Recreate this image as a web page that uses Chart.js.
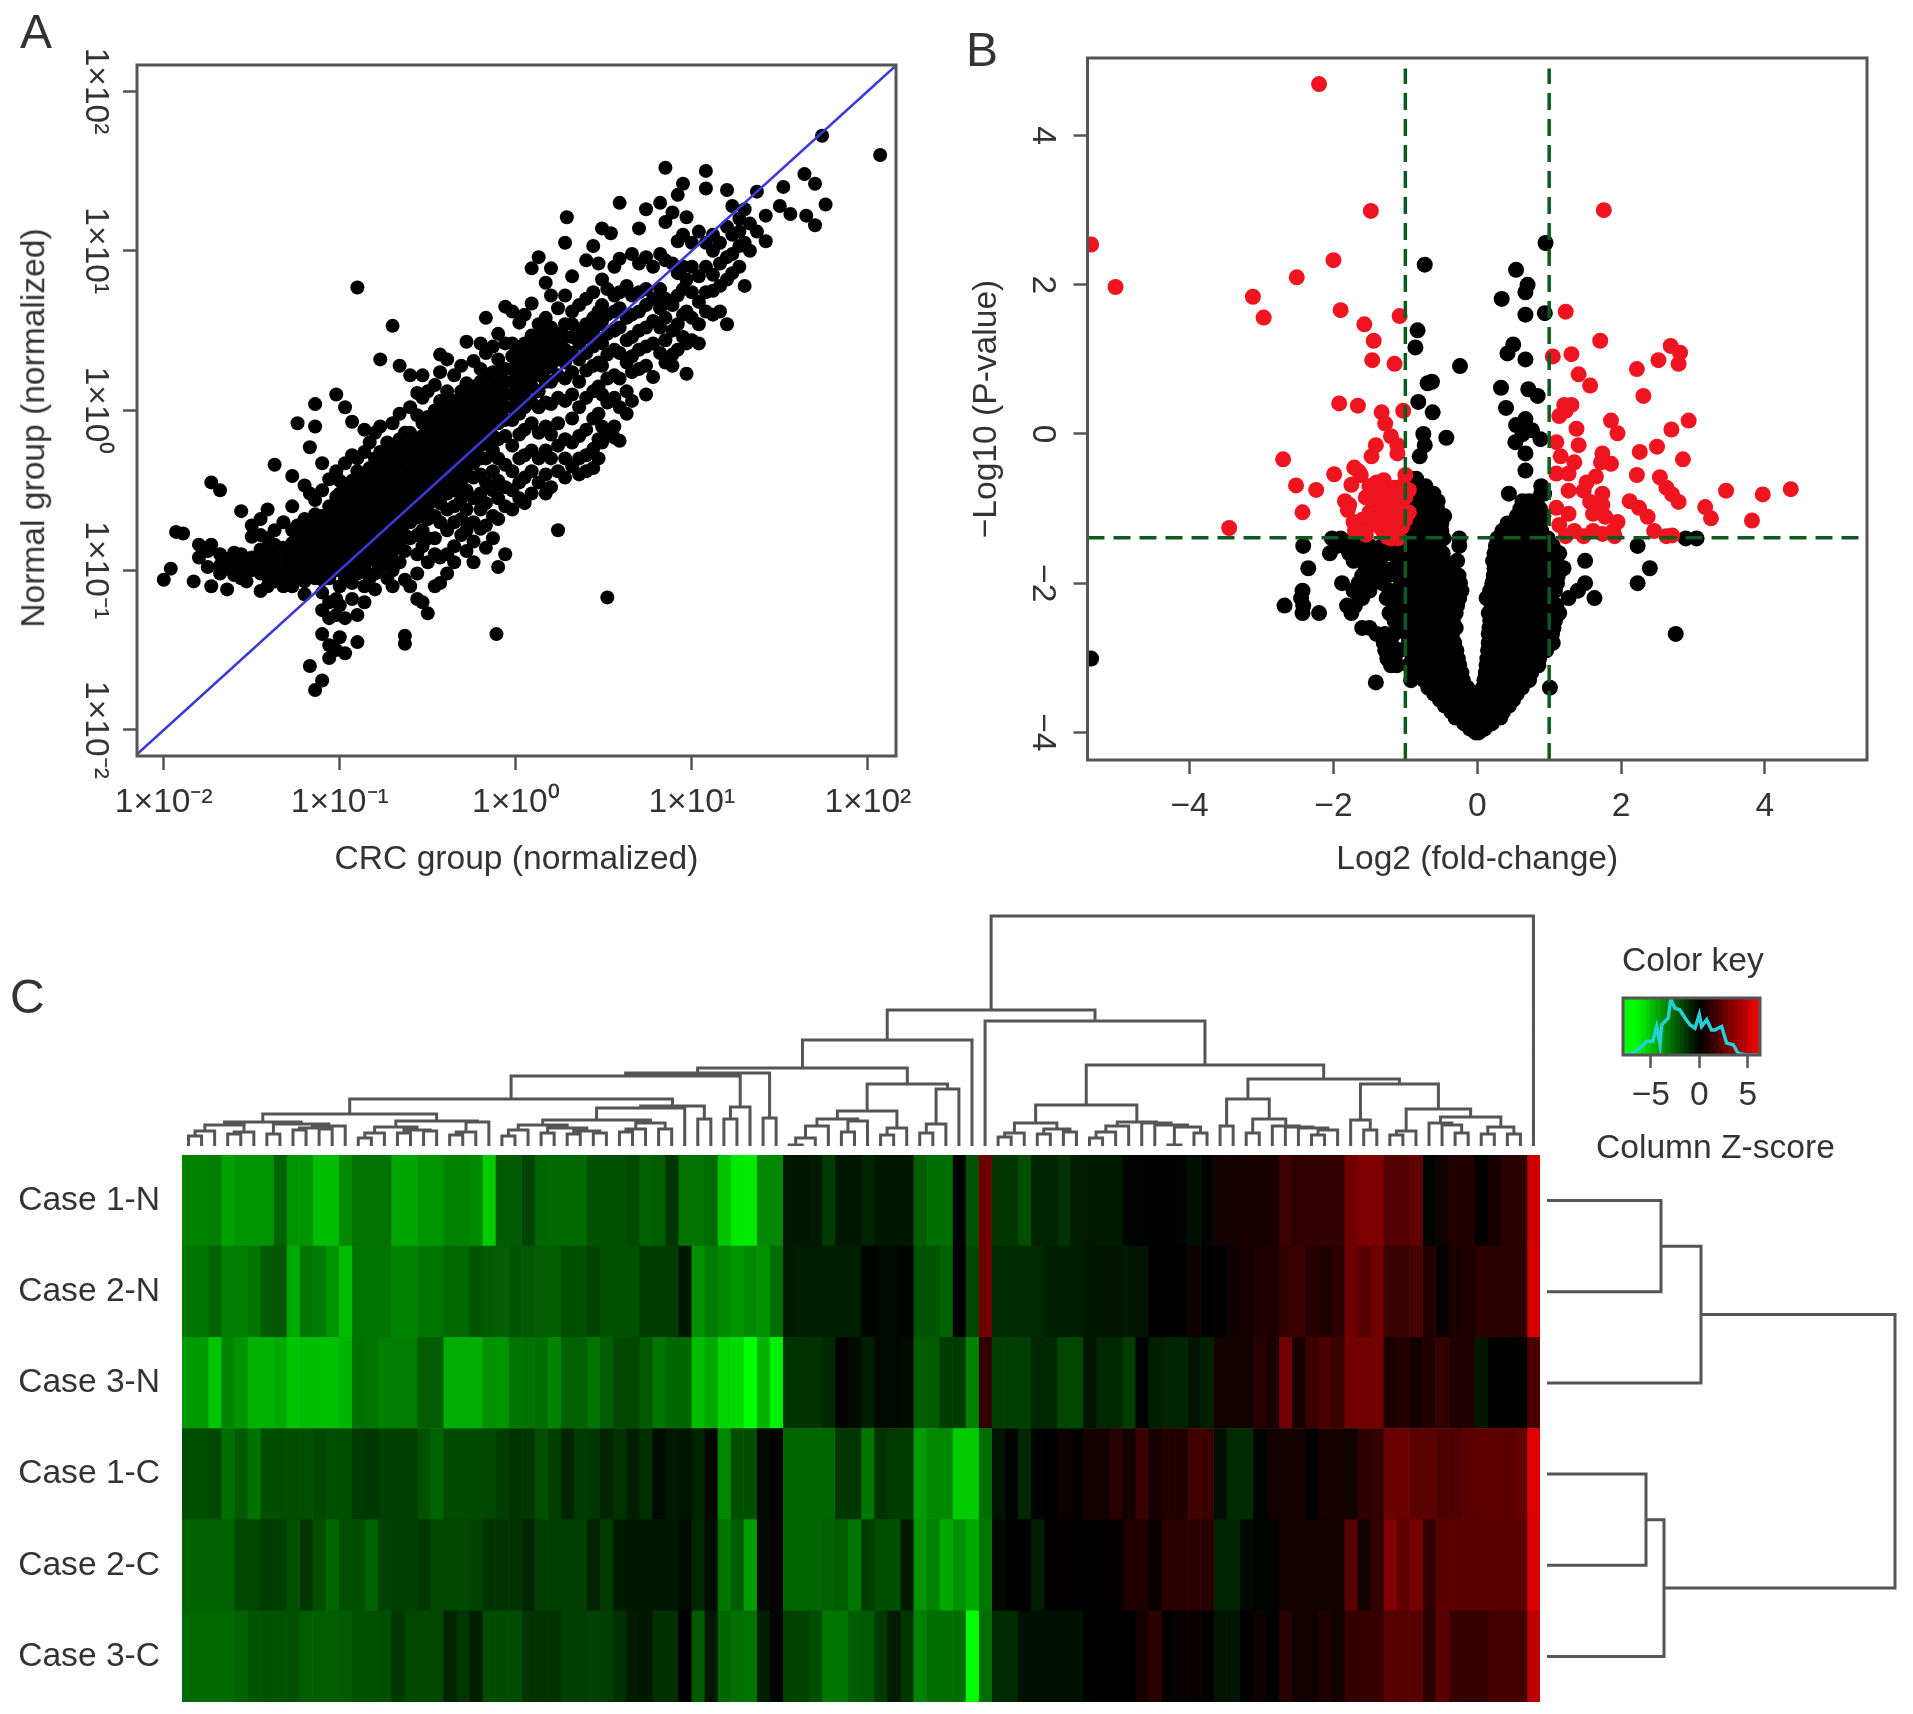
<!DOCTYPE html>
<html><head><meta charset="utf-8">
<style>
html,body{margin:0;background:#fff;width:1913px;height:1714px;overflow:hidden}
canvas{position:absolute;filter:blur(.7px)}
.t{position:absolute;font-family:"Liberation Sans",sans-serif;color:#333;white-space:nowrap;line-height:1;filter:blur(.4px)}
</style>
<script src="https://cdn.jsdelivr.net/npm/chart.js@4"></script>
</head><body>
<div class="t" style="left:20px;top:8px;font-size:48px">A</div>
<div class="t" style="left:966px;top:26px;font-size:48px">B</div>
<div class="t" style="left:10px;top:973px;font-size:48px">C</div>
<div class="t" style="left:1622px;top:943px;font-size:33.6px">Color key</div>
<div class="t" style="left:1596px;top:1130px;font-size:33.6px">Column Z-score</div>
<div class="t" style="left:33px;top:428px;font-size:33.6px;transform:translate(-50%,-50%) rotate(-90deg)">Normal group (normalized)</div>
<canvas id="a" width="930" height="900" style="left:0;top:0"></canvas>
<canvas id="b" width="963" height="900" style="left:950px;top:0"></canvas>
<canvas id="top" width="1358" height="240" style="left:182px;top:906px"></canvas>
<canvas id="heat" width="1540" height="547" style="left:0;top:1155px"></canvas>
<canvas id="side" width="366" height="547" style="left:1547px;top:1155px"></canvas>
<canvas id="key" width="300" height="170" style="left:1560px;top:948px"></canvas>
<script>
const FONT='"Liberation Sans",sans-serif', INK='#333', LINE='#555';

/* Panel A: log10 CRC group, followed by log10 Normal group values read at that CRC position */
const logNormalByLogCRC=[
[-2,-1.06],[-1.96,-.99],[-1.93,-.76],[-1.89,-.77],[-1.83,-1.07],[-1.8,-.84,-.92],[-1.75,-.88,-.98],[-1.73,-.45,-.84,-1.1],
[-1.68,-.5,-.9,-.97,-1.02],[-1.64,-.93,-.99,-1.12],[-1.6,-.89,-.96,-1.03],[-1.56,-.63,-.9,-1,-1.05],[-1.53,-.95,-1.07],
[-1.5,-.72,-.79,-.92,-1],[-1.45,-.68,-.78,-.87,-.94,-1.02,-1.13],[-1.41,-.62,-.8,-.88,-.96,-1.04,-1.1],
[-1.37,-.34,-.75,-.84,-.92,-1,-1.07],[-1.32,-.7,-.86,-.94,-1.02,-1.1],[-1.27,-.41,-.6,-.75,-.83,-.9,-.98,-1.05,-1.1],
[-1.24,-.08,-.72,-.8,-.88,-.96,-1.03],[-1.2,-.47,-.68,-.76,-.84,-.92,-1,-1.07,-1.15],[-1.17,-.23,-.52,-.72,-.8,-.88,-.96,-1.04,-1.6],
[-1.14,-.1,.04,-.56,-.65,-.73,-.81,-.89,-.97,-1.05,-1.75],[-1.1,-.33,-.5,-.66,-.74,-.82,-.9,-.98,-1.06,-1.14,-1.25,-1.4,-1.69],
[-1.06,-.43,-.6,-.68,-.76,-.84,-.92,-1,-1.05,-1.2,-1.3,-1.47,-1.55],[-1.02,.1,-.38,-.54,-.62,-.7,-.78,-.86,-.94,-1,-1.18,-1.28,-1.5],
[-1,-.44,-.52,-.6,-.68,-.76,-.84,-.92,-1,-1.1,-1.22,-1.42],[-.97,.02,-.33,-.48,-.56,-.64,-.72,-.8,-.88,-.96,-1.05,-1.3,-1.52],
[-.93,-.07,-.28,-.44,-.52,-.6,-.68,-.76,-.84,-.92,-1,-1.08,-1.18],[-.9,.77,-.3,-.38,-.46,-.54,-.62,-.7,-.78,-.86,-.94,-1.02,-1.28,-1.45],
[-.86,-.12,-.26,-.42,-.5,-.58,-.66,-.74,-.82,-.9,-.98,-1.1,-1.2],[-.83,-.2,-.36,-.44,-.52,-.6,-.68,-.76,-.84,-.92,-1.05],
[-.8,-.14,-.3,-.38,-.46,-.54,-.62,-.7,-.78,-.86,-.94,-1.02,-1.12],[-.77,.32,-.1,-.26,-.34,-.42,-.5,-.58,-.66,-.74,-.82,-.9,-.98],
[-.73,-.2,-.28,-.36,-.44,-.52,-.6,-.68,-.76,-.84,-.93,-1.05],[-.7,.53,-.08,-.24,-.32,-.4,-.48,-.56,-.64,-.72,-.8,-.88,-1,-1.1],
[-.66,.28,-.02,-.18,-.26,-.34,-.42,-.5,-.58,-.66,-.74,-.82,-.95],[-.63,-.14,-.22,-.3,-.38,-.46,-.54,-.62,-.7,-.78,-.88,-1.06,-1.41,-1.46],
[-.6,.22,.02,-.14,-.22,-.3,-.38,-.46,-.54,-.62,-.7,-.8,-1.1],[-.56,.11,-.03,-.19,-.27,-.35,-.43,-.51,-.59,-.67,-.78,-.9,-1.02,-1.18],
[-.53,.22,.08,-.08,-.16,-.24,-.32,-.4,-.48,-.56,-.64,-.75,-.85,-1.2],[-.5,.12,-.04,-.12,-.2,-.28,-.36,-.44,-.52,-.6,-.68,-.8,-.95,-1.27],
[-.46,.16,0,-.08,-.16,-.24,-.32,-.4,-.48,-.56,-.66,-.8,-.9,-1.1],[-.43,.24,.35,.06,-.02,-.1,-.18,-.26,-.34,-.42,-.5,-.58,-.7,-.92,-1.08],
[-.39,.32,.12,.04,-.04,-.12,-.2,-.28,-.36,-.44,-.52,-.62,-.75,-.9,-1.02],[-.35,.22,.06,-.02,-.1,-.18,-.26,-.34,-.42,-.5,-.6,-.7,-.85,-.95],
[-.31,.28,.12,.04,-.04,-.12,-.2,-.28,-.36,-.44,-.55,-.68,-.78],[-.28,.43,.17,.09,.01,-.07,-.15,-.23,-.31,-.39,-.5,-.62,-.75,-.88],
[-.24,.31,.15,.07,-.01,-.09,-.17,-.25,-.33,-.42,-.55,-.7,-.82,-.95],[-.2,.42,.26,.18,.1,.02,-.06,-.14,-.22,-.3,-.4,-.52,-.62,-.74],
[-.17,.58,.36,.2,.12,.04,-.04,-.12,-.2,-.3,-.45,-.58,-.72,-.86],[-.13,.4,.24,.16,.08,0,-.08,-.16,-.25,-.38,-.5,-.66,-.8],
[-.11,-1.4],[-.1,.48,.32,.24,.16,.08,0,-.08,-.18,-.3,-.44,-.55,-.68,-.98],[-.06,.65,.42,.26,.18,.1,.02,-.06,-.16,-.34,-.48,-.6,-.9],
[-.02,.62,.42,.34,.26,.18,.1,.02,-.06,-.22,-.38,-.5,-.62],[.02,.55,.39,.31,.23,.15,.07,-.02,-.15,-.3,-.45,-.55],
[.05,.6,.42,.34,.26,.18,.1,.02,-.12,-.28,-.42,-.58],[.09,.89,.67,.47,.39,.31,.23,.15,.05,-.08,-.25,-.38,-.52],
[.13,.96,.54,.46,.38,.3,.22,.12,.02,-.14,-.3,-.45],[.17,.8,.58,.5,.42,.34,.26,.18,.05,-.1,-.25,-.4,-.52],
[.2,.89,.72,.52,.44,.36,.28,.18,.04,-.15,-.3,-.48],[.24,.64,.48,.4,.32,.22,.08,-.08,-.22,-.38,-.75],
[.28,1.05,.72,.54,.46,.38,.3,.2,.06,-.18,-.3,-.42],[.29,1.21],[.32,.84,.62,.54,.46,.36,.24,.1,-.05,-.2,-.35],
[.36,.66,.5,.42,.32,.18,.02,-.16,-.3,-.4],[.4,.94,.7,.54,.46,.36,.25,.08,-.12,-.28,-.38],[.44,1.03,.74,.58,.5,.4,.28,.12,-.05,-.24,-.36],
[.47,.92,.62,.54,.44,.3,.15,-.02,-.18,-.3],[.49,1.14,.82,.66,.56,.42,.28,.1,-.1,-.2],[.52,-1.17,.76,.6,.48,.35,.2,.05,-.14],
[.54,1.11],[.56,.9,.72,.62,.5,.38,.22,.08,-.1,-.17],[.59,1.3,.95,.74,.64,.52,.36,.2,.02,-.19],[.63,.78,.58,.44,.3,.12,-.02],
[.66,.98,.72,.6,.46,.34,.24,.06],[.7,1.14,.92,.74,.62,.5,.38,.26],[.74,1.26,.96,.76,.66,.52,.4,.28,.1],[.78,.9,.7,.56,.42,.21],
[.82,1.3,.98,.76,.64,.52,.36],[.85,1.52,1.18,.94,.7,.58,.44,.3],[.89,1.24,.92,.66,.5,.35,.28],[.92,1.35,1.06,.86,.72,.54,.38],
[.95,1.42,1.1,.9,.76,.6,.46],[.97,1.21,.82,.62,.42,.23],[1,1.05,.9,.74,.58,.44],[1.04,1.12,.84,.68,.54,.42],[1.08,1.5,1.39,1.05,.9,.74,.62],
[1.12,1.1,1,.85,.75,.6],[1.16,1.05,.92,.78,.62],[1.2,1.38,1.15,.96,.82,.54],[1.23,1.28,1.1,.98,.86],[1.27,1.2,1.12,1.03,.9],[1.3,1.26,1.05,.78],
[1.33,1.17,1],[1.37,1.37,1.12],[1.42,1.22,1.06],[1.5,1.28],[1.52,1.4],[1.56,1.23],[1.64,1.48],[1.65,1.22],[1.7,1.42,1.16],[1.74,1.72],[1.76,1.29],[2.07,1.6]
];
const aTickValues=[.01,.1,1,10,100];
const aTickTexts=['1×10⁻²','1×10⁻¹','1×10⁰','1×10¹','1×10²'];
const aXLimits=[-2.152,2.16], aYLimits=[-2.163,2.163];

/* Panel B: [−log10 row value, then log2 fold-changes of the black points on that row] */
const blackRowsB=[
[-4,-.02,.02],[-3.95,-.1,-.04,.04,.1],[-3.88,-.18,-.1,-.02,.06,.14,.2],[-3.8,-.3,-.21,-.12,-.03,.06,.15,.24,.32],
[-3.72,-.36,-.27,-.18,-.09,0,.09,.18,.27,.36],[-3.64,-.45,-.36,-.27,-.18,-.09,0,.1,.19,.28,.37,.44],
[-3.56,-.52,-.43,-.34,-.25,-.16,-.07,.06,.15,.24,.33,.42,.5],[-3.48,-.6,-.51,-.42,-.33,-.24,-.15,-.06,.1,.19,.28,.37,.46,.55],
[-3.4,-.68,-.59,-.5,-.41,-.32,-.23,-.14,.08,.17,.26,.35,.44,.53,.62,1.01],[-3.33,-1.41],
[-3.3,-.92,-.74,-.65,-.56,-.47,-.38,-.29,-.2,.1,.19,.28,.37,.46,.55,.64,.72],
[-3.2,-.85,-.76,-.67,-.58,-.49,-.4,-.31,-.22,.12,.21,.3,.39,.48,.57,.66,.75],
[-3.1,-1.2,-1.12,-.95,-.88,-.79,-.7,-.61,-.52,-.43,-.34,-.25,.13,.22,.31,.4,.49,.58,.67,.76,.85],
[-3.01,-5.37,-1.25,-1.15,-.9,-.81,-.72,-.63,-.54,-.45,-.36,-.27,.14,.23,.32,.41,.5,.59,.68,.77,.86],
[-2.9,-1.28,-1.18,-1.08,-.92,-.83,-.74,-.65,-.56,-.47,-.38,-.29,.15,.24,.33,.42,.51,.6,.69,.78,.87,.96],
[-2.8,-1.3,-1.2,-.95,-.86,-.77,-.68,-.59,-.5,-.41,-.32,.16,.25,.34,.43,.52,.61,.7,.79,.88,.97,1.05],
[-2.68,-1.4,-1.28,-1.16,-.98,-.89,-.8,-.71,-.62,-.53,-.44,-.35,.16,.25,.34,.43,.52,.61,.7,.79,.88,.97,1.04,2.76],
[-2.6,-1.6,-1.5,-1.02,-.93,-.84,-.75,-.66,-.57,-.48,-.39,-.3,.17,.26,.35,.44,.53,.62,.71,.8,.89,.98,1.06],
[-2.5,-1.15,-1.06,-.97,-.88,-.79,-.7,-.61,-.52,-.43,-.34,.18,.27,.36,.45,.54,.63,.72,.81,.9,.99,1.08],
[-2.4,-2.43,-2.2,-1.75,-1.22,-1.12,-1.02,-.92,-.83,-.74,-.65,-.56,-.47,-.38,-.3,.16,.25,.34,.43,.52,.61,.7,.79,.88,.97,1.06,1.14],
[-2.3,-2.68,-2.42,-1.81,-1.7,-1.14,-1.04,-.94,-.85,-.76,-.67,-.58,-.49,-.4,-.28,.2,.29,.38,.47,.56,.65,.74,.83,.92,1.01,1.1],
[-2.2,-2.45,-1.6,-1.26,-1.1,-1,-.91,-.82,-.73,-.64,-.55,-.46,-.37,-.25,.13,.22,.31,.4,.49,.58,.67,.76,.85,.94,1.03,1.27,1.63],
[-2.1,-2.43,-1.72,-1.5,-1.22,-1.08,-.98,-.89,-.8,-.71,-.62,-.53,-.44,-.35,-.22,.18,.27,.36,.45,.54,.63,.72,.81,.9,.99,1.08,1.4],
[-2,-1.88,-1.65,-1.5,-1.32,-1.06,-.96,-.87,-.78,-.69,-.6,-.51,-.42,-.33,-.24,.21,.3,.39,.48,.57,.66,.75,.84,.93,1.02,1.11,1.5,2.23],
[-1.9,-1.6,-1.4,-1.25,-1.1,-1,-.91,-.82,-.73,-.64,-.55,-.46,-.37,-.26,.23,.32,.41,.5,.59,.68,.77,.86,.95,1.04,1.12],
[-1.8,-2.35,-1.55,-1.42,-1.3,-1.16,-1,-.9,-.81,-.72,-.63,-.54,-.45,-.36,.24,.33,.42,.51,.6,.69,.78,.87,.96,1.05,1.2,2.4],
[-1.7,-1.72,-1.6,-1.5,-1.38,-1.1,-1,-.91,-.82,-.73,-.64,-.55,-.46,-.28,.22,.31,.4,.49,.58,.67,.76,.85,.94,1.03,1.1,1.5],
[-1.6,-2.05,-1.78,-1.68,-1.55,-1.4,-1.25,-1.02,-.93,-.84,-.75,-.66,-.57,-.48,.24,.33,.42,.51,.6,.69,.78,.87,.96,1.05,1.14],
[-1.5,-2.42,-1.95,-1.85,-1.68,-1.5,-1.32,-1.15,-1,-.91,-.82,-.73,-.64,-.55,-.25,.26,.35,.44,.53,.62,.71,.8,.89,.98,1.05,2.23],
[-1.4,-2.02,-1.9,-1.72,-1.02,-.92,-.83,-.74,-.65,-.56,-.47,-.25,.28,.37,.46,.55,.64,.73,.82,.91,.98,2.9,3.05],
[-1.3,-.95,-.86,-.77,-.68,-.59,-.5,.35,.44,.53,.62,.71,.8,.89],
[-1.2,-.95,-.86,-.77,-.68,-.59,-.5,.42,.5,.6,.69,.78,.87],
[-1.1,-.93,-.84,-.75,-.66,-.57,-.46,.55,.64,.73,.82,.92],
[-1,-.92,-.83,-.74,-.65,-.56,.6,.69,.78,.87],
[-.9,-.91,-.82,-.73,-.64,-.55,.63,.72,.8],
[-.8,-.88,-.79,-.7,-.61,.44,.89,.93],[-.7,-.9,-.81,-.72,.89],[-.6,-.93,-.85],
[-.49,.67],[-.3,-.8],[-.26,.67],[-.15,-.73],[-.11,.53],[-.07,.88],[-.05,-.43],[0,-.75,.63],[.05,.76],[.12,.54],[.2,.67],[.29,-.62],[.35,.4],
[.43,-.82],[.51,.84],[.6,.71],[.62,.33],[.68,-.69],[.7,-.63],[.91,-.24],[1,.67],[1.08,.42],[1.16,-.86],[1.2,.5],[1.39,-.83],[1.6,.67],[1.62,.94],
[1.81,.34],[1.9,.67],[2,.7],[2.2,.54],[2.27,-.73],[2.56,.95]
];
const redFoldB=[-2.2,-1.48,1.76,-5.37,-5.03,-2,-2.51,-3.12,-2.97,-1.9,-1.57,-1.08,-1.44,-1.46,-1.15,-1.92,-1.66,-1.33,-1.03,-1.28,-1.2,-1.11,-1.41,-1.47,-1.11,-2.7,-1.99,-2.52,-2.24,-2.43,-3.45,-1.71,
1.23,1.71,1.31,2.69,2.82,2.8,2.52,2.22,2.31,1.41,1.57,1.05,1.31,1.21,1.14,1.23,1.86,1.95,1.38,2.94,2.7,2.5,2.26,2.86,2.22,2.54,2.63,2.71,2.8,3.46,3.97,4.36,3.17,3.25,3.82,2.12,2.25,2.37,1.95,2.46,2.71,1.89,1.1,1.16,1.41,1.35,1.74,1.72,1.86,1.1,1.27,1.65,1.52,1.27,1.48,1.74,1.57,1.74,1.1,1.27,1.61,1.78,1.14,1.35,1.61,1.74,1.23,1.48,1.91,2.63,
-1.84,-1.8,-1.75,-1.72,-1.7,-1.62,-1.55,-1.5,-1.5,-1.45,-1.45,-1.4,-1.4,-1.4,-1.35,-1.35,-1.35,-1.3,-1.3,-1.3,-1.3,-1.25,-1.25,-1.25,-1.25,-1.2,-1.2,-1.2,-1.2,-1.2,-1.15,-1.15,-1.15,-1.15,-1.15,-1.1,-1.1,-1.1,-1.1,-1.1,-1.05,-1.05,-1.05,-1.05,-1,-1,-1,-.95,-.95,-1.78,-1.6,-1.55,-1.65];
const redPvalB=[4.69,2.99,3,2.54,1.97,2.33,2.1,1.84,1.56,1.66,1.47,1.58,1.25,.99,.94,.41,.38,.29,.31,.14,-.03,-.15,-.15,-.3,-.26,-.34,-.54,-.69,-.75,-1.05,-1.26,-.45,
1.64,1.25,1.07,1.18,1.09,.94,.99,.87,.51,.8,.65,1.04,.39,.39,.24,.31,.18,.01,.07,.18,.06,-.17,-.24,-.34,-.55,-.58,-.72,-.81,-.91,-.76,-.81,-.74,-.98,-1.13,-1.16,-.9,-.99,-1.11,-1.18,-1.3,-1.36,-1.3,-.11,-.3,-.15,-.38,-.26,-.38,-.4,-.53,-.53,-.57,-.65,-.76,-.76,-.8,-.91,-.95,-.99,-1.07,-1.07,-1.11,-1.22,-1.3,-1.3,-1.34,-1.37,-1.37,-1.37,-1.37,
-.9,-1.02,-.68,-1.18,-1.3,-.55,-.85,-.7,-1.05,-.75,-1.2,-.65,-.9,-1.1,-.8,-1,-1.25,-.62,-.85,-1.08,-1.32,-.75,-.95,-1.15,-1.38,-.82,-1.02,-1.2,-1.3,-1.4,-.72,-.9,-1.1,-1.25,-1.38,-.8,-1,-1.15,-1.3,-1.4,-.7,-.9,-1.05,-1.25,-.55,-.85,-1.15,-.75,-1.05,-.95,-1.15,-1.35,-.5];
const bXTicks=[-4,-2,0,2,4], bYTicks=[-4,-2,0,2,4];
const foldCutoffs=[-1,1], pCutoff=-1.39;
const bXRange=[-5.42,5.42], bYRange=[-4.37,5.04];

/* Panel C: column z-scores per sample */
const caseLabels=['Case 1-N','Case 2-N','Case 3-N','Case 1-C','Case 2-C','Case 3-C'];
const case1N=[-3.3,-3.3,-3.2,-4.1,-3.8,-3.8,-3.8,-2.5,-3.8,-3.8,-4.8,-4.8,-3.5,-2.9,-2.9,-2.9,-4.2,-4.2,-3.8,-3.8,-3.3,-3.3,-3.5,-5.2,-2.3,-2.3,-1.7,-2.6,-2.7,-2.7,-2.7,-2.1,-2.1,-2.1,-1.9,-2.5,-2.4,-1.4,-2.9,-2.9,-2.7,-5,-5.9,-6,-3.5,-3.5,-.6,-.6,-.7,-1.5,-.6,-.6,-.9,-.6,-.6,-.6,-2.4,-2.8,-2.8,-.1,-2.1,2.8,-1.4,-1.4,-2,-.9,-.9,-1.3,-.8,-.7,-.7,-.7,-.1,-.1,0,0,-.1,-.4,-.1,.5,.5,.6,.7,.7,1.6,1.2,1.3,1.3,1.3,2.8,3.2,3.2,2.1,2.1,2.5,-.1,.4,.9,.9,.1,.6,1.1,1.1,5.3];
const case2N=[-3,-3,-2.5,-3.2,-3.2,-3,-2.3,-2.2,-4.3,-3,-3.1,-3.8,-4.8,-3,-3,-3,-3.4,-3.4,-3,-3,-2.7,-2.7,-2.2,-2.3,-2.4,-2.2,-2.3,-2.4,-2.4,-2,-2,-1.7,-2.1,-2.1,-2.1,-1.5,-1.5,-1.5,-.6,-3.7,-3.1,-3.5,-3.8,-3.5,-3.7,-2.8,-.7,-.8,-.8,-.8,-.8,-.8,-.1,-.2,-.2,-.1,-2.2,-2.2,-2.5,0,-1.8,2.8,-1.1,-1.1,-1.1,-1.1,-.8,-.8,-.8,-.6,-.5,-.5,-.6,-.5,0,0,.1,.3,0,0,.3,.6,.8,.8,1.3,1.5,1,.8,1.1,2.8,2.2,2.8,1.5,1.5,1.8,.9,.1,.7,.8,1.1,1.1,1.1,1.1,5.4];
const case3N=[-3.9,-3.9,-5,-3.4,-3.8,-4.5,-4.5,-4.3,-5,-4.8,-4.9,-4.9,-4.6,-2.9,-3,-3.2,-3.2,-3.2,-2.4,-2.4,-4.4,-4.4,-4.4,-3.7,-3.8,-3,-2.9,-2.8,-3.4,-2.5,-2.5,-3,-2.4,-1.8,-1.8,-2.3,-3,-2.6,-2.6,-4.8,-4.3,-5.4,-5.5,-6.5,-4.6,-6.1,-1.3,-1.3,-1.3,-1,-.1,-.3,-.8,-.2,-.2,-.3,-2.4,-2.3,-1.5,-1.5,-3.3,1.2,-1.6,-1.6,-1.6,-1,-1,-1.8,-1.8,-.5,-1,-1,-1.5,-.1,-.8,-.9,-.9,-.5,-.8,.5,.5,.5,1,.6,2.8,.6,1.5,1.9,1.5,2.9,2.9,2.9,.6,.9,.5,.9,1.3,.8,.8,-.6,0,.1,.1,1.9];
const case1C=[-2,-2,-1.8,-2.8,-2.3,-2.9,-2,-2,-2,-2,-1.8,-2,-2,-1.5,-1.4,-1.6,-1.6,-1.6,-2.1,-2.5,-1.9,-1.9,-1.9,-1.8,-1.5,-1.3,-1.4,-2,-1.6,-1,-1.5,-1.4,-.9,-1.3,-.8,-1.2,-.3,-.6,-.5,-.9,-.2,-3.5,-2,-2,-.2,.1,-2.6,-2.6,-2.6,-2.6,-1.4,-1.4,-3,-1.3,-1.5,-1.5,-4,-3.5,-3.5,-5.2,-5.2,-2.8,-.5,-.1,-1,-.1,0,.3,.1,.5,.5,1,.5,1.5,.5,.9,.9,1.7,1.5,-.4,-1.1,-1.1,-.1,.4,.5,.5,0,.6,.6,.4,1.2,1.3,2.7,2.7,2.3,2.3,2,2,2.3,2.4,2.4,2.3,2.5,5.6];
const case2C=[-2.5,-2.5,-2.5,-2.5,-1.8,-1.8,-1.5,-1.6,-2.1,-1.4,-2,-2.6,-2,-2,-2.5,-1.7,-1.6,-1.6,-1.4,-1.8,-1.8,-1.8,-1.7,-1.3,-1.3,-1.3,-.9,-1.6,-1.6,-1.6,-1.6,-.9,-1.5,-.7,-.6,-.6,-.6,-.6,-.3,-1,-.3,-3,-2.4,-4,-.2,.2,-2.6,-2.6,-2.6,-2.5,-2.4,-3,-1.5,-2,-2,-.7,-3.8,-3.3,-4.3,-3.7,-4.3,-3,-.2,0,0,-.8,.1,.1,0,0,.1,.1,.8,.8,.2,1.1,1.1,1.1,1,-.9,-.9,-.2,-.1,-.1,.5,.5,.4,.4,.5,2.3,.4,1.3,3.3,2.4,3,1.3,2.3,2.3,2.3,2.3,2.3,2.3,2.3,5.5];
const case3C=[-2.7,-2.7,-2.7,-2.7,-2.5,-2.2,-2.1,-2.1,-2,-2.4,-2.4,-2.4,-2.3,-2.1,-2.1,-2,-1.4,-1.8,-1.8,-1.8,-.9,-1.4,-.8,-1.9,-1.9,-1.9,-1.3,-1.3,-1.3,-1.6,-1.6,-1.7,-1.6,-1.2,-.7,-.6,-1.2,-1.2,0,-2.3,-.6,-2.6,-2.8,-2.9,-.8,-.1,-1.7,-1.7,-2,-3,-3,-2.4,-2.3,-1.5,-.7,-1.4,-3.3,-2.8,-2.8,-2.8,-6.5,-2.8,-1.1,-1.1,-.4,-.4,-.4,-.4,-.4,0,0,0,0,.5,1.1,0,.2,.2,.1,-.5,-.5,0,.3,0,1,.4,.4,.8,.4,1.4,1.4,1.4,2.2,2.2,2.2,1.1,2.3,1.4,1.4,1.4,1.7,1.7,1.7,4.8];
const caseRows=[case1N,case2N,case3N,case1C,case2C,case3C];

/* Dendrograms: [height, left, right]; 0 is a leaf */
const gA=[21,[15,[10,0,0],0],[14,[12,0,0],0]];
const gB=[22,[12,0,0],[20,[18,[16,0,0],[17,0,0]],0]];
const gC=[25,[19,[13,[8,0,0],0],[16,[13,0,0],[15,0,0]]],[24,[14,[11,0,0],0],0]];
const gV=[21,[16,[10,0,0],0],[18,[13,0,0],[15,[12,0,0],[13,0,0]]]];
const gW=[23,[17,[14,0,0],0],[17,0,0]];
const gL=[47,[32,[24,gA,gB],gC],[40,[38,[26,gV,gW],0],[27,0,0]]];
const gJ=[73,[70,gL,[39,[27,0,0],0]],[28,0,0]];
const gAA=[35,[27,[20,[8,[1,0,0],0],0],[25,[14,0,0],0]],[18,[11,0,0],0]];
const gZ=[62,gAA,[57,[22,[13,0,0],0],0]];
const gD=[41,[23,[13,[9,0,0],0],[17,[12,0,0],[14,0,0]]],[24,[20,[14,[8,0,0],0],0],[23,0,[21,0,[19,[1,0,0],[13,0,0]]]]]];
const gF=[47,[20,0,0],[27,[13,0,0],[20,0,[19,0,[18,0,[16,[11,0,0],0]]]]]];
const gG=[62,[26,0,[16,0,0]],[37,[15,[11,0,0],0],[29,[23,0,[21,0,[13,0,0]]],[19,[12,0,0],[12,0,0]]]]];
const columnTree=[230,[136,[106,[78,gJ,gZ],0],[125,0,[81,gD,[67,gF,gG]]]],0];
const rowTree=[348,[154,[114,0,0],0],[117,[99,0,0],0]];

/* Colour key */
const keyBins=[-7.75,-7.25,-6.75,-6.25,-5.75,-5.25,-4.75,-4.25,-3.75,-3.25,-2.75,-2.25,-1.75,-1.25,-.75,-.25,.25,.75,1.25,1.75,2.25,2.75,3.25,3.75,4.25,4.75,5.25,5.75,6.25];
const keyCurveZ=[-7.84,-6.8,-5.95,-5.43,-4.81,-4.4,-4.05,-3.88,-3.2,-2.96,-2.5,-2,-1.48,-.96,-.45,0,.24,.76,1.27,1.6,2.3,2.82,3.5,4,4.88,6.25];
const keyCurveCount=[0,3,15,24,24,50,18,53,65,98,82,79,65,53,47,71,50,62,44,44,50,21,18,3,0,0];
const keyTicks=[-5,0,5];
const keyRange=[-7.87,6.26];
const zFull=6.5;

function zColor(z){const c=Math.min(255,Math.round(Math.abs(z)/zFull*255));return z<0?`rgb(0,${c},0)`:`rgb(${c},0,0)`;}
function treePath(tree){
  const out=[];let n=0;
  (function walk(node){
    if(node===0){return {p:(n++)+.5,h:0};}
    const a=walk(node[1]),b=walk(node[2]),h=node[0];
    out.push({p:a.p,h:a.h},{p:a.p,h},{p:b.p,h},{p:b.p,h:b.h},{p:NaN,h:NaN});
    return {p:(a.p+b.p)/2,h};
  })(tree);
  return out;
}
const frame={id:'frame',afterDatasetsDraw(c){const a=c.chartArea,x=c.ctx;x.save();x.strokeStyle=LINE;x.lineWidth=3;x.strokeRect(a.left,a.top,a.right-a.left,a.bottom-a.top);x.restore();}};
const base={responsive:false,animation:false,events:[],devicePixelRatio:1,plugins:{legend:{display:false},tooltip:{enabled:false},title:{display:false}}};
const tickGrid=(len)=>({display:true,drawOnChartArea:false,drawTicks:true,tickLength:len,tickWidth:2.5,tickColor:LINE,offset:false});
const tickFont={family:FONT,size:33.6};
const pickTicks=list=>s=>{s.ticks=list.map(v=>({value:v}));};

const ptsA=logNormalByLogCRC.flatMap(r=>r.slice(1).map(y=>({x:10**r[0],y:10**y})));
new Chart(document.getElementById('a'),{type:'scatter',plugins:[frame],data:{datasets:[
 {data:[{x:10**aYLimits[0],y:10**aYLimits[0]},{x:10**aYLimits[1],y:10**aYLimits[1]}],showLine:true,borderColor:'#3a3ad6',borderWidth:2.5,pointRadius:0,order:0},
 {data:ptsA,backgroundColor:'#000',borderWidth:0,pointRadius:7,order:1}]},
 options:{...base,layout:{autoPadding:false,padding:{top:65,right:34}},scales:{
  x:{type:'logarithmic',min:10**aXLimits[0],max:10**aXLimits[1],afterBuildTicks:pickTicks(aTickValues),afterFit:s=>{s.height=144},border:{display:false},grid:tickGrid(14),
     ticks:{font:tickFont,color:INK,padding:13,maxRotation:0,autoSkip:false,callback:(v,i)=>aTickTexts[i]},
     title:{display:true,text:'CRC group (normalized)',font:tickFont,color:INK,padding:{top:0,bottom:20}}},
  y:{type:'logarithmic',min:10**aYLimits[0],max:10**aYLimits[1],afterBuildTicks:pickTicks(aTickValues),afterFit:s=>{s.width=137},border:{display:false},grid:tickGrid(14),
     ticks:{font:tickFont,color:INK,padding:-21,crossAlign:'center',minRotation:-90,autoSkip:false,callback:(v,i)=>aTickTexts[i]}}}}});

const dashed=(pts)=>({data:pts,showLine:true,borderColor:'#0b5a1f',borderWidth:3.5,borderDash:[17,9],pointRadius:0,order:0});
const ptsBlack=blackRowsB.flatMap(r=>r.slice(1).map(x=>({x,y:r[0]})));
const ptsRed=redFoldB.map((x,i)=>({x,y:redPvalB[i]}));
new Chart(document.getElementById('b'),{type:'scatter',plugins:[frame],data:{datasets:[
 dashed([{x:bXRange[0],y:pCutoff},{x:bXRange[1],y:pCutoff}]),
 dashed([{x:foldCutoffs[0],y:bYRange[0]},{x:foldCutoffs[0],y:4.9}]),
 dashed([{x:foldCutoffs[1],y:bYRange[0]},{x:foldCutoffs[1],y:4.9}]),
 {data:ptsRed,backgroundColor:'#ee1520',borderWidth:0,pointRadius:8,order:1},
 {data:ptsBlack,backgroundColor:'#000',borderWidth:0,pointRadius:8,order:2}]},
 options:{...base,layout:{autoPadding:false,padding:{top:58,right:46}},scales:{
  x:{type:'linear',min:bXRange[0],max:bXRange[1],afterBuildTicks:pickTicks(bXTicks),afterFit:s=>{s.height=140},border:{display:false},grid:tickGrid(14),
     ticks:{font:tickFont,color:INK,padding:13,maxRotation:0,callback:v=>String(v).replace('-','−')},
     title:{display:true,text:'Log2 (fold-change)',font:tickFont,color:INK,padding:{top:0,bottom:20}}},
  y:{type:'linear',min:bYRange[0],max:bYRange[1],afterBuildTicks:pickTicks(bYTicks),afterFit:s=>{s.width=137.5},border:{display:false},grid:tickGrid(14),
     ticks:{font:tickFont,color:INK,padding:12,crossAlign:'center',minRotation:-90,callback:v=>String(v).replace('-','−')},
     title:{display:true,text:'−Log10 (P-value)',font:tickFont,color:INK,padding:{top:17,bottom:0}}}}}});

const lineSet=(pts)=>({data:pts,showLine:true,spanGaps:false,borderColor:'#555',borderWidth:3,pointRadius:0,tension:0});
new Chart(document.getElementById('top'),{type:'scatter',data:{datasets:[lineSet(treePath(columnTree).map(d=>({x:d.p,y:d.h})))]},
 options:{...base,layout:{autoPadding:false},scales:{x:{type:'linear',display:false,min:0,max:104},y:{type:'linear',display:false,min:0,max:240}}}});

new Chart(document.getElementById('side'),{type:'scatter',data:{datasets:[lineSet(treePath(rowTree).map(d=>({x:d.h,y:d.p})))]},
 options:{...base,layout:{autoPadding:false},scales:{x:{type:'linear',display:false,min:0,max:366},y:{type:'linear',display:false,reverse:true,min:0,max:6}}}});

const nCols=case1N.length;
const heatSets=Array.from({length:nCols},(_,c)=>({data:caseRows.map(()=>1),backgroundColor:caseRows.map(r=>zColor(r[c])),borderWidth:0,barPercentage:1,categoryPercentage:1}));
new Chart(document.getElementById('heat'),{type:'bar',data:{labels:caseLabels,datasets:heatSets},
 options:{...base,indexAxis:'y',layout:{autoPadding:false},scales:{
  x:{stacked:true,display:false,min:0,max:nCols},
  y:{stacked:true,afterFit:s=>{s.width=182;s.paddingTop=0;s.paddingBottom=0},border:{display:false},grid:{display:false},ticks:{font:tickFont,color:INK,padding:14}}}}});

new Chart(document.getElementById('key'),{type:'bar',plugins:[frame],data:{datasets:[
 {type:'scatter',data:keyCurveZ.map((x,i)=>({x,y:keyCurveCount[i]})),showLine:true,borderColor:'#25d0d6',borderWidth:3.5,pointRadius:0,order:0},
 {type:'bar',data:keyBins.map(x=>({x,y:100})),backgroundColor:keyBins.map(zColor),borderWidth:0,barPercentage:1,categoryPercentage:1,order:1}]},
 options:{...base,layout:{autoPadding:false,padding:{top:50,left:63,right:100}},scales:{
  x:{type:'linear',offset:false,min:keyRange[0],max:keyRange[1],afterBuildTicks:pickTicks(keyTicks),afterFit:s=>{s.height=63},border:{display:false},grid:tickGrid(13),
     ticks:{font:tickFont,color:INK,padding:8,maxRotation:0,callback:v=>String(v).replace('-','−')}},
  y:{display:false,min:0,max:100}}}});
</script>
</body></html>
